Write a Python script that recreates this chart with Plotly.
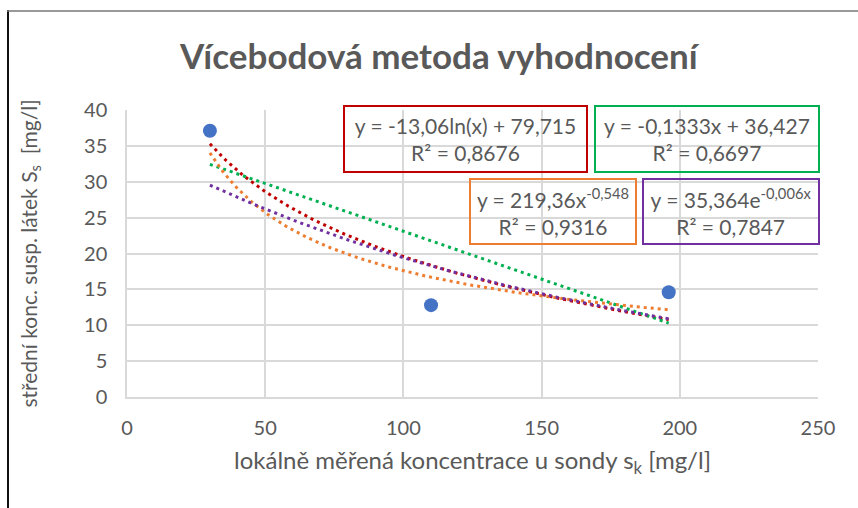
import numpy as np
import plotly.graph_objects as go

# measured points
x_pts = [30, 110, 196]
y_pts = [37.1, 12.8, 14.6]

# Excel trendline coefficients (as printed in the chart)
log_coef = [-13.06, 79.715]      # y = a*ln(x) + b
lin_coef = [-0.1333, 36.427]     # y = a*x + b
pow_coef = [219.36, -0.548]      # y = a*x^b
exp_coef = [35.364, -0.006]      # y = a*e^(b*x)

eq_texts = ["y = -13,06ln(x) + 79,715<br>R² = 0,8676",
            "y = -0,1333x + 36,427<br>R² = 0,6697",
            "y = 219,36x<sup>-0,548</sup><br>R² = 0,9316",
            "y = 35,364e<sup>-0,006x</sup><br>R² = 0,7847"]

x_ticks = [0, 50, 100, 150, 200, 250]
y_ticks = [0, 5, 10, 15, 20, 25, 30, 35, 40]

FONT = "Lato"
GREY = "#595959"
RED, GREEN, ORANGE, PURPLE = "#C00000", "#00B050", "#ED7D31", "#7030A0"

xs = np.linspace(min(x_pts), max(x_pts), 200)
trends = [
    (log_coef[0] * np.log(xs) + log_coef[1], RED),
    (lin_coef[0] * xs + lin_coef[1], GREEN),
    (pow_coef[0] * xs ** pow_coef[1], ORANGE),
    (exp_coef[0] * np.exp(exp_coef[1] * xs), PURPLE),
]

fig = go.Figure()
for ys, col in trends:
    fig.add_trace(go.Scatter(x=xs, y=ys, mode="lines",
                             line=dict(color=col, width=3, dash="3px,4px"),
                             hoverinfo="skip", showlegend=False))

fig.add_trace(go.Scatter(x=x_pts, y=y_pts, mode="markers",
                         marker=dict(color="#4472C4", size=14),
                         showlegend=False))

# plot area in px: x 127..818, y 110..397
def px_x(p):
    return (p - 127) / 691.0

def px_y(p):
    return (397 - p) / 287.0

boxes = [
    (465.5, 139, 241, 64, RED),
    (707, 139, 222, 64, GREEN),
    (553, 211.5, 164, 63, ORANGE),
    (731, 211.5, 174, 63, PURPLE),
]
for txt, (cx, cy, w, h, col) in zip(eq_texts, boxes):
    fig.add_annotation(x=px_x(cx), y=px_y(cy), xref="paper", yref="paper",
                       xanchor="center", yanchor="middle",
                       text=txt, showarrow=False, width=w, height=h,
                       align="center", valign="middle",
                       bordercolor=col, borderwidth=2, borderpad=0,
                       bgcolor="rgba(0,0,0,0)",
                       font=dict(family=FONT, size=21, color=GREY))

fig.add_annotation(x=px_x(439), y=px_y(55), xref="paper", yref="paper",
                   xanchor="center", yanchor="middle",
                   text="<b>Vícebodová metoda vyhodnocení</b>", showarrow=False,
                   font=dict(family=FONT, size=35, color=GREY))

# chart frame (left and top edges visible)
fig.add_shape(type="line", xref="paper", yref="paper",
              x0=px_x(8), x1=px_x(8), y0=px_y(10), y1=px_y(520),
              line=dict(color="#111111", width=2))
fig.add_shape(type="line", xref="paper", yref="paper",
              x0=px_x(7), x1=px_x(870), y0=px_y(11), y1=px_y(11),
              line=dict(color="#777777", width=1.5))

fig.update_layout(
    width=858, height=508,
    margin=dict(l=127, r=40, t=110, b=111),
    plot_bgcolor="white", paper_bgcolor="white",
    font=dict(family=FONT, color=GREY),
    xaxis=dict(range=[0, 250], tickvals=x_ticks, showgrid=True,
               gridcolor="#D9D9D9", gridwidth=1.5, zeroline=False,
               showline=True, linecolor="#D9D9D9", linewidth=1.5,
               tickfont=dict(size=20, color=GREY), ticks="",
               ticklabelstandoff=12,
               title=dict(text="lokálně měřená koncentrace u sondy s<sub>k</sub> [mg/l]",
                          font=dict(size=24, color=GREY), standoff=14)),
    yaxis=dict(range=[0, 40], tickvals=y_ticks, showgrid=True,
               gridcolor="#D9D9D9", gridwidth=1.5, zeroline=False,
               showline=True, linecolor="#D9D9D9", linewidth=1.5,
               tickfont=dict(size=20, color=GREY), ticks="",
               ticklabelstandoff=14,
               title=dict(text="střední konc. susp. látek S<sub>s</sub>  [mg/l]",
                          font=dict(size=21, color=GREY), standoff=41)),
)

fig.write_html("out.html", config={"displayModeBar": False},
               post_script="document.body.style.margin='0';")
